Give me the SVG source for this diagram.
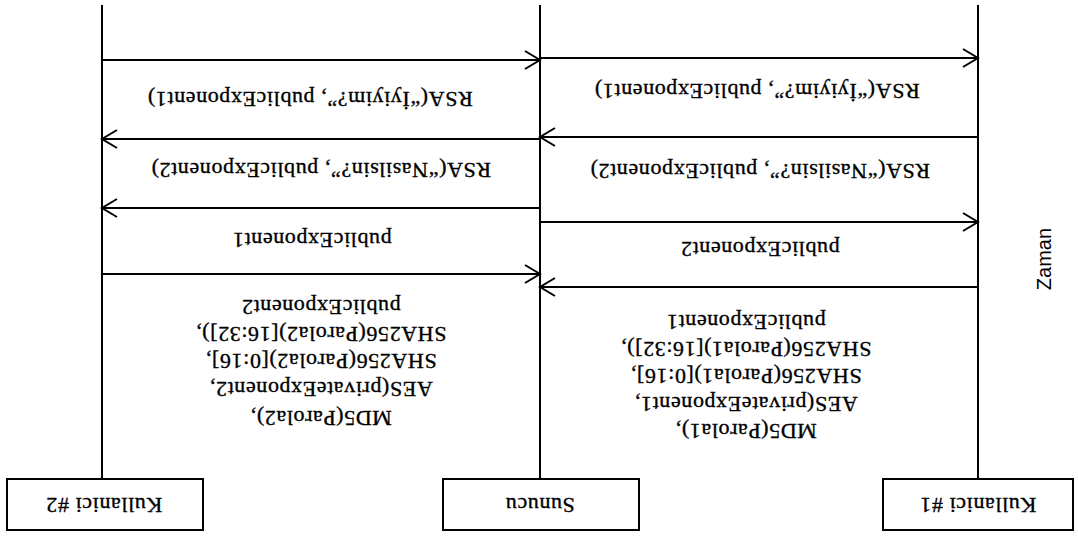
<svg xmlns="http://www.w3.org/2000/svg" width="1078" height="538" viewBox="0 0 1078 538">
  <style>
    .life { stroke: #000; stroke-width: 2; fill: none; }
    .box { stroke: #000; stroke-width: 2; fill: #fff; }
    .msg { stroke: #000; stroke-width: 2; fill: none; marker-end: url(#ah); }
    .lbl { font-family: "Liberation Serif", "Times New Roman", serif; font-size: 22px; letter-spacing: 0.6px; fill: #000; stroke: #000; stroke-width: 0.35; text-anchor: middle; }
    .axis { font-family: "Liberation Sans", Arial, sans-serif; font-size: 20px; fill: #000; text-anchor: middle; }
  </style>
  <defs>
    <marker id="ah" viewBox="-18 -12 20 24" refX="0" refY="0" markerWidth="20" markerHeight="24" markerUnits="userSpaceOnUse" orient="auto">
      <path d="M-15,-9 L0,0 L-15,9" fill="none" stroke="#000" stroke-width="2"/>
    </marker>
  </defs>
  <rect width="1078" height="538" fill="#fff"/>

  <!-- the sequence chart is printed upside down: drawn upright, then turned 180 degrees -->
  <g transform="rotate(180 539 269)">
    <g id="lifelines">
      <line class="life" x1="100" y1="59" x2="100" y2="533"/>
      <line class="life" x1="538" y1="59" x2="538" y2="533"/>
      <line class="life" x1="976" y1="59" x2="976" y2="533"/>
    </g>

    <g id="kullanici1">
      <rect class="box" x="5" y="8" width="190" height="51"/>
      <text class="lbl" x="100" y="40">Kullanici #1</text>
    </g>
    <g id="sunucu">
      <rect class="box" x="439" y="8" width="196" height="51"/>
      <text class="lbl" x="538" y="40">Sunucu</text>
    </g>
    <g id="kullanici2">
      <rect class="box" x="875" y="8" width="196" height="51"/>
      <text class="lbl" x="974" y="40">Kullanici #2</text>
    </g>

    <g id="connectors">
      <!-- Kullanici #1 <-> Sunucu -->
      <line class="msg" x1="100" y1="251" x2="538" y2="251"/>
      <line class="msg" x1="538" y1="316" x2="100" y2="316"/>
      <line class="msg" x1="100" y1="401" x2="538" y2="401"/>
      <line class="msg" x1="538" y1="480" x2="100" y2="480"/>
      <!-- Sunucu <-> Kullanici #2 -->
      <line class="msg" x1="976" y1="264" x2="538" y2="264"/>
      <line class="msg" x1="538" y1="330" x2="976" y2="330"/>
      <line class="msg" x1="538" y1="399" x2="976" y2="399"/>
      <line class="msg" x1="976" y1="478" x2="538" y2="478"/>
    </g>

    <g id="labels">
      <text class="lbl" x="332" y="114">MD5(Parola1),</text>
      <text class="lbl" x="332" y="141">AES(privateExponent1,</text>
      <text class="lbl" x="332" y="169">SHA256(Parola1)[0:16],</text>
      <text class="lbl" x="332" y="196">SHA256(Parola1)[16:32]),</text>
      <text class="lbl" x="332" y="223">publicExponent1</text>
      <text class="lbl" x="318" y="296">publicExponent2</text>
      <text class="lbl" x="318" y="374">RSA(“Nasilsin?”, publicExponent2)</text>
      <text class="lbl" x="321" y="454">RSA(“İyiyim?”, publicExponent1)</text>

      <text class="lbl" x="757" y="127">MD5(Parola2),</text>
      <text class="lbl" x="757" y="156">AES(privateExponent2,</text>
      <text class="lbl" x="757" y="184">SHA256(Parola2)[0:16],</text>
      <text class="lbl" x="757" y="211">SHA256(Parola2)[16:32]),</text>
      <text class="lbl" x="757" y="238">publicExponent2</text>
      <text class="lbl" x="766" y="305">publicExponent1</text>
      <text class="lbl" x="757" y="375">RSA(“Nasilsin?”, publicExponent2)</text>
      <text class="lbl" x="768" y="446">RSA(“İyiyim?”, publicExponent1)</text>
    </g>
  </g>

  <!-- time axis caption -->
  <text class="axis" transform="translate(1044 259) rotate(-90)" dy="7">Zaman</text>
</svg>
